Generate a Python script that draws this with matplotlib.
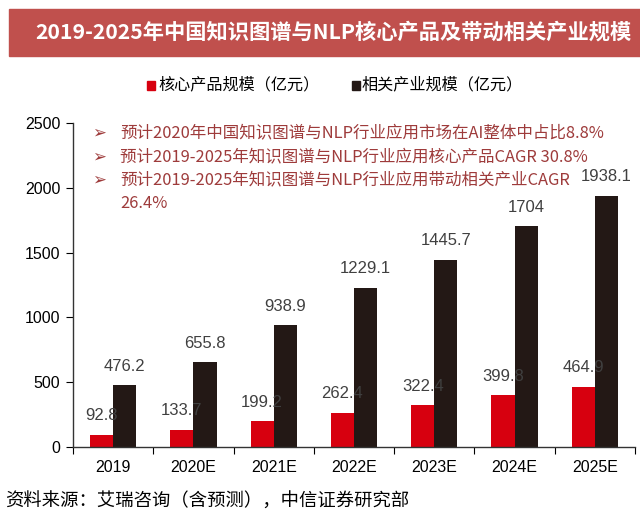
import matplotlib
matplotlib.use("Agg")
import matplotlib.pyplot as plt
from matplotlib.patches import Rectangle
import numpy as np

plt.rcParams['font.family'] = ['Noto Sans CJK SC', 'DejaVu Sans']

categories = ["2019", "2020E", "2021E", "2022E", "2023E", "2024E", "2025E"]
core = [92.8, 133.7, 199.2, 262.4, 322.4, 399.8, 464.9]
related = [476.2, 655.8, 938.9, 1229.1, 1445.7, 1704, 1938.1]
core_labels = ["92.8", "133.7", "199.2", "262.4", "322.4", "399.8", "464.9"]
related_labels = ["476.2", "655.8", "938.9", "1229.1", "1445.7", "1704", "1938.1"]
yticks = [0, 500, 1000, 1500, 2000, 2500]
series_names = ["核心产品规模（亿元）", "相关产业规模（亿元）"]
title = "2019-2025年中国知识图谱与NLP核心产品及带动相关产业规模"
notes = ["预计2020年中国知识图谱与NLP行业应用市场在AI整体中占比8.8%",
         "预计2019-2025年知识图谱与NLP行业应用核心产品CAGR 30.8%",
         "预计2019-2025年知识图谱与NLP行业应用带动相关产业CAGR",
         "26.4%"]
source = "资料来源：艾瑞咨询（含预测），中信证券研究部"

RED = "#D7000F"
DARK = "#231815"
TITLE_BG = "#C0504D"
NOTE_C = "#9E3B3B"
W, H = 640, 518

fig = plt.figure(figsize=(W / 100, H / 100), dpi=100)

def fx(px):
    return px / W

def fy(py):
    return 1 - py / H

# Title bar
fig.patches.append(Rectangle((fx(9), fy(56)), fx(640 - 9), (56 - 9) / H,
                             transform=fig.transFigure, color=TITLE_BG, zorder=0))
fig.text(fx(333), fy(32), title, color="white", fontsize=15.3, fontweight="bold",
         ha="center", va="center")

ax = fig.add_axes([fx(73), fy(447), fx(635 - 73), (447 - 123) / H])
x = np.arange(len(categories))
bw = 0.2875
ax.bar(x - bw / 2, core, width=bw, color=RED, zorder=2)
ax.bar(x + bw / 2, related, width=bw, color=DARK, zorder=2)

for i in range(len(categories)):
    ax.annotate(core_labels[i], (x[i] - bw / 2, core[i]), xytext=(0, 19),
                textcoords="offset pixels", ha="center", va="center",
                fontsize=12, color="#404040", family="Liberation Sans", zorder=3)
    ax.annotate(related_labels[i], (x[i] + bw / 2, related[i]), xytext=(0, 19),
                textcoords="offset pixels", ha="center", va="center",
                fontsize=12, color="#404040", family="Liberation Sans", zorder=3)

ax.set_xlim(-0.5, len(categories) - 0.5)
ax.set_ylim(0, 2500)
ax.set_yticks(yticks)
ax.set_yticklabels([str(t) for t in yticks], family="Liberation Sans", fontsize=11.5)
ax.set_xticks(np.arange(-0.5, len(categories), 1.0))
ax.set_xticklabels([])
ax.set_xticks(x, minor=True)
ax.set_xticklabels(categories, minor=True, family="Liberation Sans", fontsize=11.5)
ax.tick_params(axis="x", which="minor", length=0, pad=9)
ax.tick_params(axis="x", which="major", length=5, direction="out")
ax.tick_params(axis="y", length=5, direction="out", pad=4)
for s in ["top", "right"]:
    ax.spines[s].set_visible(False)
for s in ["left", "bottom"]:
    ax.spines[s].set_color("#333333")
    ax.spines[s].set_linewidth(1)

# Legend
fig.patches.append(Rectangle((fx(147), fy(90)), fx(8), 9 / H, transform=fig.transFigure,
                             color=RED))
fig.text(fx(158), fy(85), series_names[0], fontsize=11.6, va="center", ha="left")
fig.patches.append(Rectangle((fx(352), fy(90)), fx(8), 9 / H, transform=fig.transFigure,
                             color=DARK))
fig.text(fx(362), fy(85), series_names[1], fontsize=11.6, va="center", ha="left")

# Notes
ys = [133, 157, 180, 203]
for k, (yy, t) in enumerate(zip(ys, notes)):
    if k < 3:
        fig.text(fx(92), fy(yy), "➢", fontsize=12, color=NOTE_C, va="center", ha="left",
                 family=["DejaVu Sans"])
    fig.text(fx(120), fy(yy), t, fontsize=11.9, color=NOTE_C, va="center", ha="left")

fig.text(fx(5), fy(502), source, fontsize=13.2, va="center", ha="left")

fig.savefig("out.png", dpi=100)
